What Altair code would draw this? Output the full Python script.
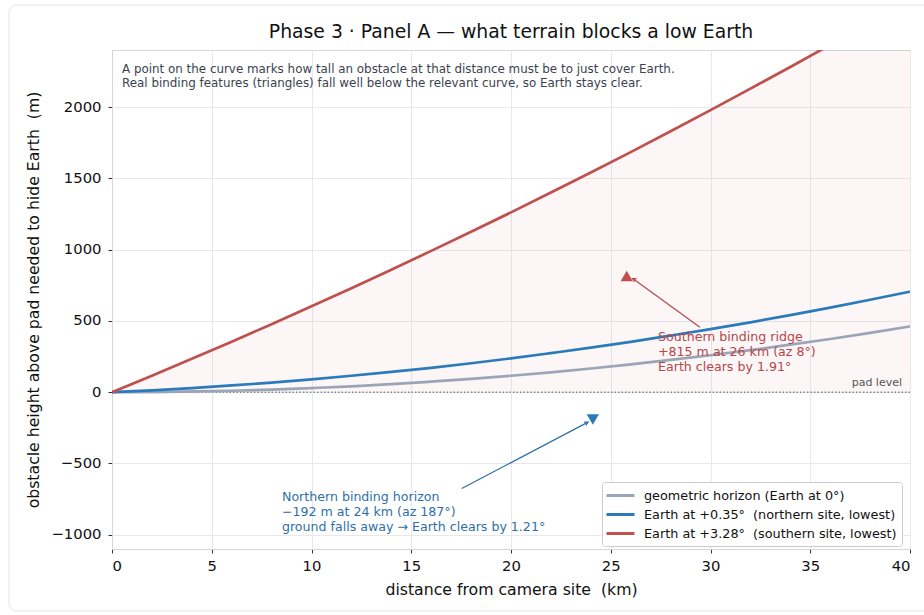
import altair as alt
import pandas as pd

# Distance from the camera site (km) and the obstacle height (m) needed to hide Earth
distance_km = [0, 2, 4, 6, 8, 10, 12, 14, 16, 18, 20, 22, 24, 26, 28, 30, 32, 34, 36, 38, 40]
geometric_m = [0, 1, 5, 10, 18, 29, 41, 56, 74, 93, 115, 139, 166, 195, 226, 259, 295, 333, 373, 416, 461]
north_m = [0, 13, 29, 47, 67, 90, 115, 142, 171, 203, 237, 274, 312, 353, 397, 442, 490, 540, 593, 648, 705]
south_m = [0, 116, 234, 354, 477, 602, 729, 859, 991, 1125, 1261, 1400, 1541, 1684, 1830, 1978, 2129, 2281, 2436, 2593, 2752]

NB = "\u00a0"  # keeps the double spacing inside labels
series_names = [
    "geometric horizon (Earth at 0°)",
    f"Earth at +0.35° {NB}(northern site, lowest)",
    f"Earth at +3.28° {NB}(southern site, lowest)",
]
series_colors = ["#9aa5b8", "#2b7bba", "#c0504d"]

# Binding terrain features
feature_x = [25.8, 24.1]
feature_y = [815, -192]
feature_kind = ["south", "north"]

# Annotation arrows (tail -> head), in data units
arrow_x = [29.47, 17.53]
arrow_y = [456, -676]
arrow_x2 = [26.1, 23.86]
arrow_y2 = [798, -210]
arrow_angle = [306, 62]
arrow_color = ["#b5474a", "#2f6fa8"]

south_lines = ["Southern binding ridge", "+815 m at 26 km (az 8°)", "Earth clears by 1.91°"]
north_lines = ["Northern binding horizon", "−192 m at 24 km (az 187°)", "ground falls away → Earth clears by 1.21°"]
note_lines = [
    "A point on the curve marks how tall an obstacle at that distance must be to just cover Earth.",
    "Real binding features (triangles) fall well below the relevant curve, so Earth stays clear.",
]

FONT = "DejaVu Sans"

rows = []
for name, vals in zip(series_names, [geometric_m, north_m, south_m]):
    for d, h in zip(distance_km, vals):
        rows.append({"d": d, "h": h, "series": name})
curves = pd.DataFrame(rows)
south_df = pd.DataFrame({"d": distance_km, "h": south_m})

x_scale = alt.Scale(domain=[0, 40], nice=False, zero=False)
y_scale = alt.Scale(domain=[-1100, 2400], nice=False, zero=False)

minus_expr = "replace(format(datum.value, 'd'), '-', '−')"

x_enc = alt.X(
    "d:Q", scale=x_scale,
    axis=alt.Axis(title=f"distance from camera site {NB}(km)",
                  values=[0, 5, 10, 15, 20, 25, 30, 35, 40], labelExpr=minus_expr),
)
y_enc = alt.Y(
    "h:Q", scale=y_scale,
    axis=alt.Axis(title=f"obstacle height above pad needed to hide Earth {NB}(m)",
                  values=[-1000, -500, 0, 500, 1000, 1500, 2000], labelExpr=minus_expr),
)

# Outer card border
card = alt.Chart(pd.DataFrame({"k": [0]})).mark_rect(
    fillOpacity=0, stroke="#e2e4e9", strokeWidth=1, cornerRadius=8
).encode(x=alt.value(-103), x2=alt.value(830), y=alt.value(-45), y2=alt.value(561))

# Shaded region above the southern curve
shade = alt.Chart(south_df).mark_area(
    color="#c0504d", opacity=0.05, clip=True, interpolate="monotone"
).encode(x=x_enc, y=y_enc, y2=alt.value(0))

# Pad level reference
pad = alt.Chart(pd.DataFrame({"k": [0]})).mark_rule(
    color="#555555", strokeWidth=1, strokeDash=[1.5, 2]
).encode(y=alt.datum(0, scale=y_scale))

pad_text = alt.Chart(pd.DataFrame({"x": [39.6], "y": [28], "t": ["pad level"]})).mark_text(
    align="right", baseline="bottom", font=FONT, fontSize=11, color="#555555"
).encode(x=alt.X("x:Q", scale=x_scale), y=alt.Y("y:Q", scale=y_scale), text="t:N")

lines = alt.Chart(curves).mark_line(strokeWidth=2.7, clip=True, interpolate="monotone").encode(
    x=x_enc, y=y_enc,
    color=alt.Color(
        "series:N",
        scale=alt.Scale(domain=series_names, range=series_colors),
        legend=alt.Legend(
            title=None, orient="none", legendX=490, legendY=432, direction="vertical",
            symbolType="M-2,0H2", symbolStrokeWidth=3, symbolSize=196,
            symbolOffset=5, labelOffset=15,
            labelFont=FONT, labelFontSize=12.8, labelColor="#111111", labelLimit=400,
            padding=5, rowPadding=3, strokeColor="#cccccc", fillColor="white",
            cornerRadius=3,
        ),
    ),
    detail="series:N",
)

feat_df = pd.DataFrame({"x": feature_x, "y": feature_y, "kind": feature_kind})
south_marker = alt.Chart(feat_df[feat_df.kind == "south"]).mark_point(
    shape="triangle-up", filled=True, size=150, color="#c0504d", opacity=1
).encode(x=alt.X("x:Q", scale=x_scale), y=alt.Y("y:Q", scale=y_scale))
north_marker = alt.Chart(feat_df[feat_df.kind == "north"]).mark_point(
    shape="triangle-down", filled=True, size=150, color="#2b7bba", opacity=1
).encode(x=alt.X("x:Q", scale=x_scale), y=alt.Y("y:Q", scale=y_scale))

arrow_df = pd.DataFrame({
    "x": arrow_x, "y": arrow_y, "x2": arrow_x2, "y2": arrow_y2,
    "angle": arrow_angle, "c": arrow_color,
})
arrow_shafts = alt.Chart(arrow_df).mark_rule(strokeWidth=1.2).encode(
    x=alt.X("x:Q", scale=x_scale), y=alt.Y("y:Q", scale=y_scale),
    x2="x2:Q", y2="y2:Q", color=alt.Color("c:N", scale=None),
)
arrow_heads = alt.Chart(arrow_df).mark_point(
    shape="M-0.6,1.1L0,0L0.6,1.1", filled=False, size=40, strokeWidth=1.2, opacity=1
).encode(
    x=alt.X("x2:Q", scale=x_scale), y=alt.Y("y2:Q", scale=y_scale),
    angle=alt.Angle("angle:Q", scale=None), color=alt.Color("c:N", scale=None),
)

south_text = alt.Chart(pd.DataFrame({"x": [27.37], "y": [386], "t": ["\n".join(south_lines)]})).mark_text(
    align="left", baseline="middle", font=FONT, fontSize=12.6, color="#b5474a",
    lineBreak="\n", lineHeight=15,
).encode(x=alt.X("x:Q", scale=x_scale), y=alt.Y("y:Q", scale=y_scale), text="t:N")

north_text = alt.Chart(pd.DataFrame({"x": [8.52], "y": [-737], "t": ["\n".join(north_lines)]})).mark_text(
    align="left", baseline="middle", font=FONT, fontSize=12.6, color="#2f6fa8",
    lineBreak="\n", lineHeight=15,
).encode(x=alt.X("x:Q", scale=x_scale), y=alt.Y("y:Q", scale=y_scale), text="t:N")

note_text = alt.Chart(pd.DataFrame({"x": [0.5], "y": [2267], "t": ["\n".join(note_lines)]})).mark_text(
    align="left", baseline="middle", font=FONT, fontSize=11.9, color="#3b4250",
    lineBreak="\n", lineHeight=14,
).encode(x=alt.X("x:Q", scale=x_scale), y=alt.Y("y:Q", scale=y_scale), text="t:N")

chart = alt.layer(
    card, shade, pad, lines, arrow_shafts, arrow_heads,
    south_marker, north_marker, south_text, north_text, note_text, pad_text,
).properties(
    width=798, height=499,
    autosize=alt.AutoSizeParams(type="none"),
    padding={"left": 112, "top": 50, "right": 14, "bottom": 66},
    background="white",
    title=alt.TitleParams(
        "Phase 3 · Panel A — what terrain blocks a low Earth",
        font=FONT, fontSize=18.8, fontWeight="normal", color="#111111",
        anchor="middle", offset=10, frame="group", dy=47,
    ),
).configure_view(
    stroke="#d3d6dd", strokeWidth=1,
).configure_axis(
    labelFont=FONT, labelFontSize=14.8, labelColor="#111111",
    titleFont=FONT, titleFontSize=15.7, titleFontWeight="normal", titleColor="#111111",
    gridColor="#e6e8ec", gridWidth=1,
    domainColor="#d3d6dd", tickColor="#333333", tickSize=4,
).configure_axisX(titlePadding=10, labelPadding=5).configure_axisY(titlePadding=9, labelPadding=7)

chart.save("out.html", embed_options={"renderer": "svg", "actions": False})
